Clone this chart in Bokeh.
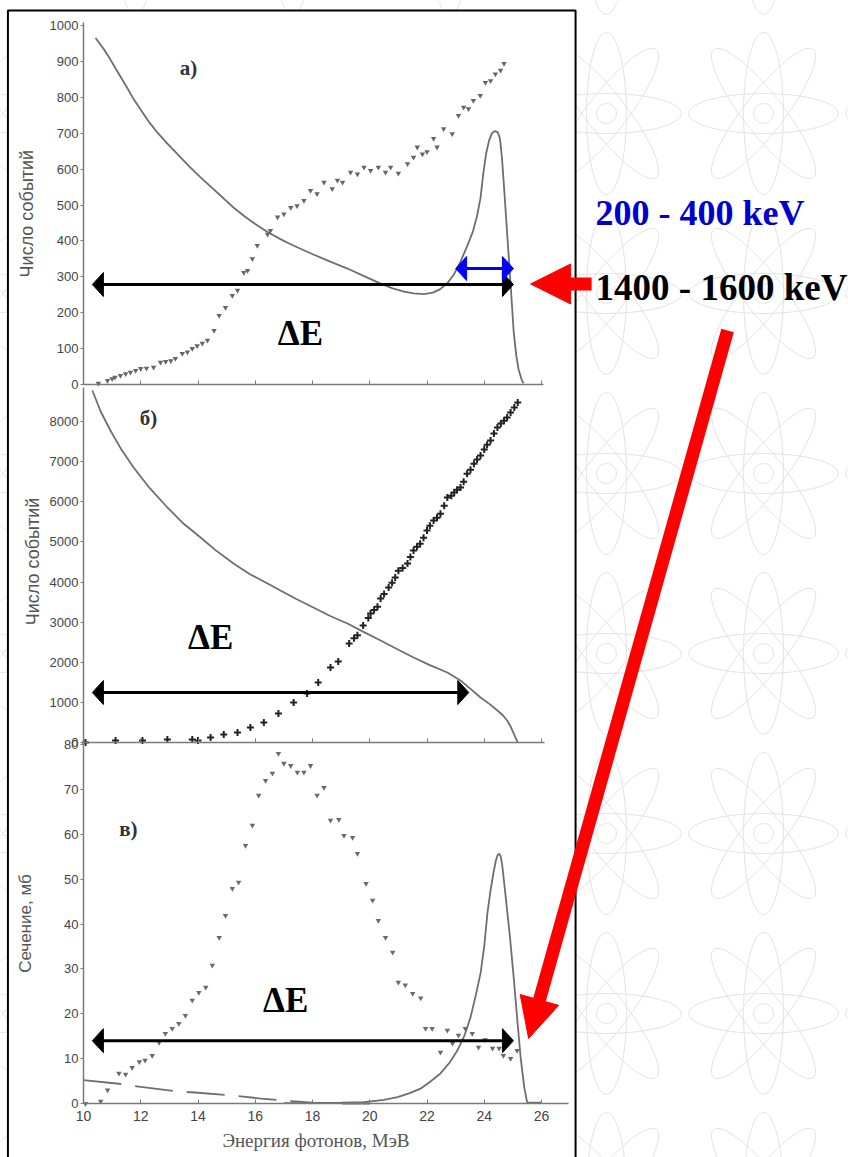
import numpy as np
from bokeh.plotting import figure
from bokeh.models import Range1d, LinearAxis, FixedTicker, Arrow, NormalHead
from bokeh.core.properties import value
from bokeh.embed import file_html
from bokeh.resources import INLINE

W, H = 848, 1157

# ---------------- data ----------------
# panel a) : spectrum curve (solid) and event counts (markers)
top_line_x = [10.42, 10.7, 10.94, 11.2, 11.5, 11.75, 12.0, 12.3, 12.6, 12.93, 13.3, 13.7, 14.09, 14.5, 14.9,
              15.24, 15.6, 16.0, 16.43, 16.88, 17.2, 17.58, 18.03, 18.6, 19.22, 19.8, 20.38, 20.8, 21.2,
              21.53, 21.9, 22.2, 22.45, 22.71, 22.95, 23.17, 23.4, 23.6, 23.75, 23.87, 23.97, 24.07, 24.17,
              24.27, 24.37, 24.47, 24.55, 24.62, 24.7, 24.8, 24.92, 25.03, 25.12, 25.2, 25.3, 25.37]
top_line_y = [965, 935, 905, 870, 830, 795, 765, 730, 700, 671, 640, 607, 577, 547, 518,
              493, 470, 447, 425, 405, 392, 378, 362, 343, 323, 302, 281, 268, 259,
              254, 252, 256, 265, 282, 308, 342, 385, 425, 470, 520, 590, 645, 680,
              700, 706, 703, 685, 630, 540, 420, 280, 145, 80, 42, 15, 3]
top_pts_x = [10.52, 10.84, 11.0, 11.1, 11.29, 11.47, 11.64, 11.82, 12.0, 12.2, 12.45, 12.69, 12.87, 13.05,
             13.21, 13.45, 13.63, 13.8, 13.97, 14.15, 14.33, 14.56, 14.74, 14.96, 15.2, 15.38, 15.6, 15.73,
             15.9, 16.07, 16.43, 16.53, 16.78, 17.0, 17.24, 17.46, 17.7, 17.93, 18.16, 18.4, 18.69, 18.87,
             19.05, 19.33, 19.57, 19.8, 20.03, 20.3, 20.55, 20.73, 21.0, 21.32, 21.53, 21.66, 21.84, 22.0,
             22.23, 22.35, 22.58, 22.88, 23.1, 23.28, 23.45, 23.62, 23.86, 24.04, 24.22, 24.39, 24.57, 24.69]
top_pts_y = [3, 11, 16, 20, 25, 30, 34, 39, 44, 45, 48, 62, 64, 66,
             72, 86, 90, 100, 108, 115, 123, 150, 192, 214, 248, 262, 312, 317,
             350, 387, 418, 429, 466, 475, 493, 498, 512, 540, 531, 563, 545, 569,
             563, 591, 586, 605, 596, 605, 591, 605, 588, 615, 633, 661, 642, 648,
             685, 661, 712, 698, 749, 772, 768, 791, 805, 841, 846, 865, 875, 894]

# panel б)
mid_line_x = [10.31, 10.6, 10.94, 11.3, 11.75, 12.3, 12.93, 13.5, 14.09, 14.6, 15.24, 15.8, 16.43, 16.88,
              17.45, 18.03, 18.6, 19.22, 19.8, 20.38, 20.95, 21.53, 22.1, 22.71, 23.17, 23.5, 23.87, 24.2,
              24.46, 24.65, 24.8, 24.92, 25.03, 25.1, 25.17]
mid_line_y = [8773, 8250, 7776, 7330, 6854, 6350, 5857, 5450, 5109, 4800, 4461, 4200, 3963, 3788,
              3570, 3364, 3160, 2966, 2750, 2542, 2330, 2118, 1930, 1745, 1545, 1350, 1122, 950,
              798, 680, 548, 400, 224, 110, 0]
mid_pts_x = [10.07, 11.12, 12.06, 12.93, 13.8, 14.0, 14.44, 14.9, 15.38, 15.83, 16.3, 16.81, 17.34, 17.81,
             18.2, 18.63, 18.9, 19.28, 19.45, 19.57, 19.77, 19.95, 20.03, 20.15, 20.27, 20.38, 20.5, 20.66,
             20.78, 20.89, 21.0, 21.15, 21.32, 21.42, 21.53, 21.65, 21.76, 21.88, 22.0, 22.1, 22.23, 22.35,
             22.47, 22.6, 22.71, 22.85, 22.95, 23.05, 23.17, 23.28, 23.4, 23.52, 23.64, 23.75, 23.87, 24.0,
             24.1, 24.22, 24.34, 24.46, 24.58, 24.69, 24.8, 24.92, 25.05, 25.17]
mid_pts_y = [0, 50, 50, 75, 75, 50, 125, 200, 250, 374, 498, 723, 997, 1221,
             1495, 1869, 2019, 2467, 2600, 2675, 2916, 3100, 3215, 3300, 3381, 3589, 3700, 3863,
             3980, 4112, 4278, 4350, 4461, 4620, 4785, 4880, 4951, 5100, 5284, 5400, 5533, 5600,
             5700, 5900, 6106, 6150, 6231, 6300, 6356, 6500, 6698, 6800, 6947, 7050, 7155, 7300,
             7420, 7526, 7700, 7850, 7950, 8016, 8100, 8224, 8350, 8474]

# panel в)
bot_pts_x = [10.07, 10.6, 10.84, 11.24, 11.47, 11.7, 11.95, 12.15, 12.4, 12.64, 12.86, 13.1, 13.33, 13.56,
             13.8, 14.03, 14.27, 14.5, 14.74, 14.96, 15.2, 15.42, 15.66, 15.9, 16.12, 16.36, 16.6, 16.81,
             17.0, 17.24, 17.47, 17.7, 17.93, 18.16, 18.4, 18.63, 18.92, 19.1, 19.4, 19.57, 19.87, 20.1,
             20.3, 20.55, 20.8, 21.0, 21.24, 21.5, 21.78, 21.95, 22.18, 22.47, 22.71, 22.89, 23.1, 23.34,
             23.58, 23.8, 24.03, 24.29, 24.52, 24.67, 24.92, 25.15]
bot_pts_y = [0, 0.5, 3, 6.7, 6.5, 8, 9.3, 9.6, 10.7, 13.6, 15.6, 16.7, 17.8, 19.6,
             23, 24.7, 25.9, 30.8, 37, 41.9, 47.9, 49.3, 57.5, 62, 68.7, 72, 73.6, 78,
             75.8, 75.3, 73.8, 73.8, 75.3, 68.7, 70.4, 63.1, 63.3, 59.7, 59.3, 55.7, 49, 45.3,
             40.8, 37, 33.7, 27, 26.4, 24.5, 23.5, 16.7, 16.7, 11.4, 16.3, 13.4, 15.2, 16.7,
             15.6, 12.5, 14.2, 12.3, 12.3, 10.7, 10, 11.8]
bot_line_x = [17.0, 18.0, 19.0, 19.8, 20.5, 20.97, 21.4, 21.77, 22.1, 22.47, 22.8, 23.06, 23.3, 23.52,
              23.7, 23.87, 24.0, 24.11, 24.22, 24.32, 24.4, 24.46, 24.52, 24.58, 24.64, 24.75, 24.9,
              25.03, 25.15, 25.27, 25.4, 25.5, 26.0]
bot_line_y = [0.1, 0.1, 0.2, 0.3, 0.8, 1.4, 2.3, 3.3, 4.8, 6.7, 9.2, 11.8, 15.0, 19.2,
              24.0, 29, 35, 42.4, 47.5, 51.3, 54.0, 55.3, 55.7, 55.0, 52.5, 46, 37,
              28, 19, 10.3, 3.5, 0.2, 0.2]
dash_x = [10.0, 11.4, 12.0, 13.3, 14.0, 15.5, 16.2, 17.3, 18.0, 19.0, 20.0]
dash_y = [5.2, 4.3, 3.7, 2.7, 2.4, 1.6, 1.1, 0.5, 0.2, 0.0, 0.0]

x_ticks = [10, 12, 14, 16, 18, 20, 22, 24, 26]
top_y_ticks = [0, 100, 200, 300, 400, 500, 600, 700, 800, 900, 1000]
mid_y_ticks = [0, 1000, 2000, 3000, 4000, 5000, 6000, 7000, 8000]
bot_y_ticks = [0, 10, 20, 30, 40, 50, 60, 70, 80]

# ---------------- page geometry ----------------
X_ZERO_PX, X_PPU = 83.0, 28.625          # x = 10 MeV at page px 83
TOP_ZERO_PY, TOP_PPU = 384.0, 0.359
MID_ZERO_PY, MID_PPU = 742.0, 0.040125
BOT_ZERO_PY, BOT_PPU = 1103.0, 4.486


def yr(zero_py, ppu):
    return Range1d(-(H - zero_py) / ppu, zero_py / ppu)


p = figure(width=W, height=H,
           x_range=Range1d(10 - X_ZERO_PX / X_PPU, 10 + (W - X_ZERO_PX) / X_PPU),
           y_range=yr(TOP_ZERO_PY, TOP_PPU),
           x_axis_type=None, y_axis_type=None,
           toolbar_location=None, output_backend="svg", min_border=0)
p.extra_y_ranges = {"mid": yr(MID_ZERO_PY, MID_PPU), "bot": yr(BOT_ZERO_PY, BOT_PPU)}
p.outline_line_color = None
p.background_fill_color = "white"
p.border_fill_color = "white"

# ---------------- decorative atom background ----------------
col_px = [-22, 135, 292, 449, 606, 763, 920]
row_py = [-67, 113, 293, 473, 653, 833, 1013, 1193]
ax_, ay_ = [], []
for cx in col_px:
    for cy in row_py:
        ax_.append(10 + (cx - X_ZERO_PX) / X_PPU)
        ay_.append((TOP_ZERO_PY - cy) / TOP_PPU)
atom_col = "#e3e3e3"
for ang, w_, h_ in [(0, 150, 40), (np.pi / 2, 162, 40), (0.91, 162, 40), (-0.91, 162, 40)]:
    p.ellipse(x=ax_, y=ay_, width=w_, height=h_, angle=ang, width_units="screen", height_units="screen",
              fill_color=None, line_color=atom_col, line_width=1)
p.ellipse(x=ax_, y=ay_, width=20, height=20, width_units="screen", height_units="screen",
          fill_color=None, line_color=atom_col, line_width=1)

# ---------------- outer frame ----------------
p.quad(left=[7.36], right=[27.19], top=[1041.8], bottom=[-2200],
       fill_color="white", line_color="black", line_width=2)

# ---------------- axes ----------------
AX_COL = "#7a7a7a"


def add_yaxis(rng, ticks, bounds):
    ax = LinearAxis(y_range_name=rng, fixed_location=10, bounds=bounds, ticker=FixedTicker(ticks=ticks),
                    axis_line_color=AX_COL, axis_line_width=1.5, major_tick_line_color=AX_COL,
                    major_tick_in=0, major_tick_out=3, minor_tick_line_color=None,
                    major_label_text_font="Liberation Sans", major_label_text_font_size="13px",
                    major_label_text_color="#444444", major_label_standoff=2)
    p.add_layout(ax, "left")


def add_xaxis(rng, bounds, labels):
    ax = LinearAxis(y_range_name=rng, fixed_location=0, bounds=bounds, ticker=FixedTicker(ticks=x_ticks),
                    axis_line_color=AX_COL, axis_line_width=1.5, major_tick_line_color=AX_COL,
                    major_tick_in=4, major_tick_out=0, minor_tick_line_color=None,
                    major_label_text_font="Liberation Sans", major_label_text_font_size="14px",
                    major_label_text_color="#444444" if labels else None, major_label_standoff=7)
    p.add_layout(ax, "below")


add_yaxis("default", top_y_ticks, (0, 1008))
add_yaxis("mid", mid_y_ticks, (0, 8850))
add_yaxis("bot", bot_y_ticks, (0, 80))
add_xaxis("default", (10, 26.07), False)
add_xaxis("mid", (10, 26.1), False)
add_xaxis("bot", (10, 26.94), True)

# ---------------- series ----------------
LINE_COL = "#6e6e6e"
p.line(top_line_x, top_line_y, line_color=LINE_COL, line_width=1.8)
p.scatter(top_pts_x, top_pts_y, marker="inverted_triangle", size=5.5, fill_color="#666666", line_color=None)

p.line(mid_line_x, mid_line_y, line_color=LINE_COL, line_width=1.8, y_range_name="mid")
p.scatter(mid_pts_x, mid_pts_y, marker="cross", size=7, line_color="#222222", line_width=2,
          y_range_name="mid")

p.line(bot_line_x, bot_line_y, line_color=LINE_COL, line_width=1.8, y_range_name="bot")
p.line(dash_x, dash_y, line_color=LINE_COL, line_width=1.8, line_dash="38 14", y_range_name="bot")
p.scatter(bot_pts_x, bot_pts_y, marker="inverted_triangle", size=5.5, fill_color="#6a6a6a", line_color=None,
          y_range_name="bot")

# ---------------- axis titles & panel letters ----------------
p.text(x=[8.01], y=[476], text=["Число событий"], angle=np.pi / 2, text_align="center",
       text_baseline="middle", text_font=value("Liberation Sans"), text_font_size="18px", text_color="#555555")
p.text(x=[8.25], y=[4511], text=["Число событий"], angle=np.pi / 2, text_align="center",
       text_baseline="middle", text_font=value("Liberation Sans"), text_font_size="18px", text_color="#555555",
       y_range_name="mid")
p.text(x=[7.97], y=[40.1], text=["Сечение, мб"], angle=np.pi / 2, text_align="center",
       text_baseline="middle", text_font=value("Liberation Sans"), text_font_size="17px", text_color="#555555",
       y_range_name="bot")
p.text(x=[18.12], y=[-8.25], text=["Энергия фотонов, МэВ"], text_align="center", text_baseline="middle",
       text_font=value("Liberation Serif"), text_font_size="19px", text_color="#555555", y_range_name="bot")

for xx, yy, tt, rng in [(13.67, 883, "а)", "default"), (12.27, 8075, "б)", "mid"), (11.57, 61.3, "в)", "bot")]:
    p.text(x=[xx], y=[yy], text=[tt], text_align="center", text_baseline="middle",
           text_font=value("Liberation Serif"), text_font_size="21px", text_font_style="bold",
           text_color="#333333", y_range_name=rng)

for xx, yy, rng in [(17.58, 142, "default"), (14.44, 2617, "mid"), (17.06, 23.0, "bot")]:
    p.text(x=[xx], y=[yy], text=["ΔE"], text_align="center", text_baseline="middle",
           text_font=value("Liberation Serif"), text_font_size="35px", text_font_style="bold",
           text_color="black", y_range_name=rng)

p.text(x=[27.89], y=[479], text=["200 - 400 keV"], text_align="left", text_baseline="middle",
       text_font=value("Liberation Serif"), text_font_size="36px", text_font_style="bold", text_color="#0000CC")
p.text(x=[27.89], y=[270], text=["1400 - 1600 keV"], text_align="left", text_baseline="middle",
       text_font=value("Liberation Serif"), text_font_size="37px", text_font_style="bold", text_color="black")


# ---------------- double arrows ----------------
def harrow(x0, x1, y, color, ppu, rng="default", lw=3, hl_px=11, hw_px=12):
    hl = hl_px / X_PPU
    hw = hw_px / ppu
    p.segment([x0 + hl * 0.8], [y], [x1 - hl * 0.8], [y], line_color=color, line_width=lw, y_range_name=rng)
    p.patches([[x0, x0 + hl, x0 + hl], [x1, x1 - hl, x1 - hl]],
              [[y, y + hw, y - hw], [y, y + hw, y - hw]],
              fill_color=color, line_color=color, line_width=1, y_range_name=rng)


harrow(10.31, 25.02, 278.5, "black", TOP_PPU)
harrow(23.0, 25.02, 323, "#0000FF", TOP_PPU)
harrow(10.31, 23.46, 1246, "black", MID_PPU, "mid")
harrow(10.31, 25.02, 14.0, "black", BOT_PPU, "bot")

# ---------------- red arrows ----------------
p.add_layout(Arrow(end=NormalHead(size=40, fill_color="red", line_color="red"),
                   x_start=27.75, y_start=280, x_end=25.62, y_end=280,
                   line_color="red", line_width=13))
p.add_layout(Arrow(end=NormalHead(size=40, fill_color="red", line_color="red"),
                   x_start=32.5, y_start=172.3, x_end=25.55, y_end=14.5,
                   line_color="red", line_width=13, y_range_name="bot"))

open("out.html", "w", encoding="utf-8").write(file_html(p, INLINE))
